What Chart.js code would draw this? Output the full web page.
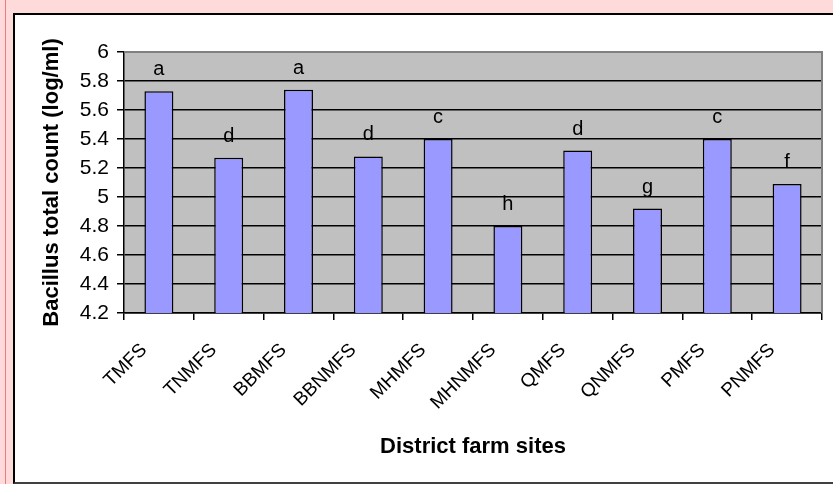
<!DOCTYPE html>
<html>
<head>
<meta charset="utf-8">
<script src="https://cdn.jsdelivr.net/npm/chart.js@4"></script>
<style>
html,body{margin:0;padding:0;}
body{width:833px;height:484px;overflow:hidden;background:#ffdada;position:relative;font-family:"Liberation Sans",Arial,sans-serif;}
.redline{position:absolute;left:5px;top:0;width:1px;height:484px;background:#f07a7a;}
.frame{position:absolute;left:13px;top:13px;width:830px;height:467px;background:#fff;border-top:2px solid #000;border-left:2px solid #000;border-bottom:2px solid #404040;}
canvas{display:block;}
</style>
</head>
<body>
<div class="redline"></div>
<div class="frame"><canvas id="c" width="818" height="467"></canvas></div>
<script>
const sites=['TMFS','TNMFS','BBMFS','BBNMFS','MHMFS','MHNMFS','QMFS','QNMFS','PMFS','PNMFS'];
const counts=[5.73,5.27,5.74,5.28,5.40,4.80,5.32,4.92,5.40,5.09];
const letters=['a','d','a','d','c','h','d','g','c','f'];
const yTicks=[4.2,4.4,4.6,4.8,5,5.2,5.4,5.6,5.8,6];

const FONT='"Liberation Sans", Arial, sans-serif';

// gray plot background + gray top/right frame, letters over the bars
const plotDeco={
    id:'plotDeco',
    beforeDraw(ch){
        const a=ch.chartArea, c=ch.ctx;
        c.save(); c.fillStyle='#c0c0c0'; c.fillRect(a.left,a.top,a.right-a.left,a.bottom-a.top); c.restore();
    },
    afterDraw(ch){
        const a=ch.chartArea, c=ch.ctx;
        c.save();
        c.strokeStyle='#808080'; c.lineWidth=2;
        c.beginPath(); c.moveTo(a.left,a.top); c.lineTo(a.right,a.top); c.lineTo(a.right,a.bottom); c.stroke();
        c.fillStyle='#000'; c.font='20px '+FONT; c.textAlign='center'; c.textBaseline='alphabetic';
        ch.getDatasetMeta(0).data.forEach((bar,i)=>c.fillText(letters[i],bar.x,bar.y-16));
        c.restore();
    }
};

new Chart(document.getElementById('c').getContext('2d'),{
    type:'bar',
    data:{labels:sites,datasets:[{data:counts,backgroundColor:'#9999ff',borderColor:'#000',borderWidth:1.5,categoryPercentage:1,barPercentage:0.415}]},
    options:{
        responsive:false,animation:false,
        layout:{padding:{left:0,top:37,right:11,bottom:0}},
        plugins:{legend:{display:false},tooltip:{enabled:false}},
        scales:{
            x:{
                grid:{offset:true,drawOnChartArea:false,color:'#000',tickLength:7,lineWidth:1.5},
                border:{color:'#000',width:1.5},
                ticks:{color:'#000',font:{family:FONT,size:19},minRotation:45,maxRotation:45,autoSkip:false,padding:19,labelOffset:-15},
                title:{display:true,text:'District farm sites',color:'#000',font:{family:FONT,size:22,weight:'bold'},padding:{top:0,bottom:22}},
                afterFit(s){ s.height=169; }
            },
            y:{
                min:4.2,max:6,
                grid:{color:ctx=>ctx.tick&&ctx.tick.value>=6?'#808080':'#000',tickColor:'#000',tickLength:7,lineWidth:1.5},
                border:{color:'#000',width:1.5},
                ticks:{color:'#000',font:{family:FONT,size:21},padding:8,callback:v=>String(+v.toFixed(1))},
                afterBuildTicks(s){ s.ticks=yTicks.map(v=>({value:v})); },
                title:{display:true,text:'Bacillus total count (log/ml)',color:'#000',font:{family:FONT,size:22,weight:'bold'},padding:{top:24,bottom:0}},
                afterFit(s){ s.width=109; }
            }
        }
    },
    plugins:[plotDeco]
});
</script>
</body>
</html>
